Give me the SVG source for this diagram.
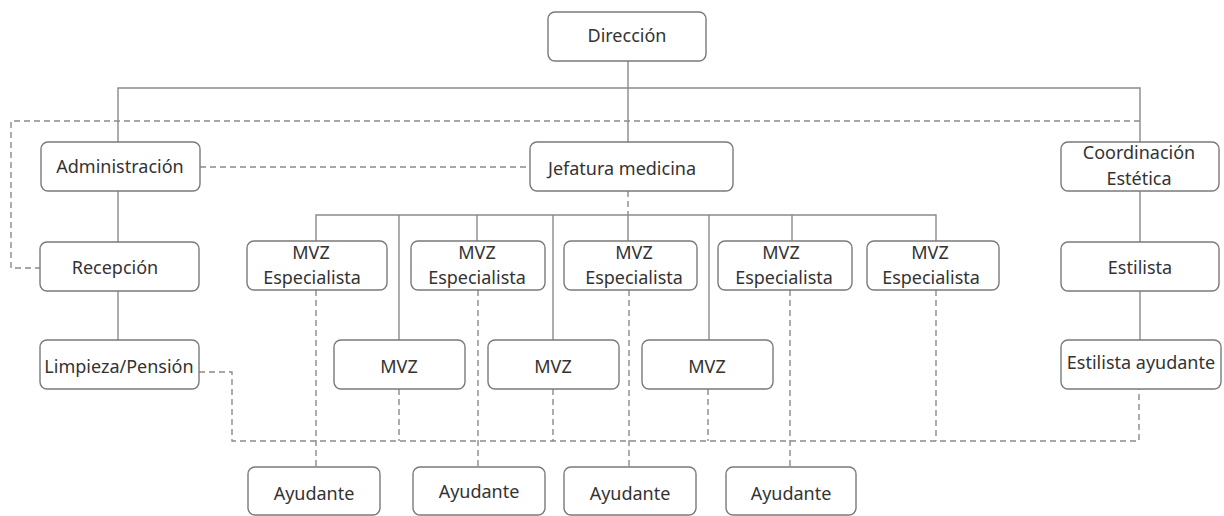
<svg xmlns="http://www.w3.org/2000/svg" width="1224" height="516" viewBox="0 0 1224 516">
<style>
.box{fill:#fff;stroke:#7a7a7a;stroke-width:1.4}
.t{font-family:"Noto Sans","Open Sans",sans-serif;font-size:18px;fill:#333;text-anchor:middle}
.s{fill:none;stroke:#8a8a8a;stroke-width:1.4}
.d{fill:none;stroke:#8a8a8a;stroke-width:1.4;stroke-dasharray:6 4}
</style>
<rect width="1224" height="516" fill="#fff"/>
<g id="connectors">
<path class="s" d="M628 61V142M118 142V88H1140V142"/>
<path class="d" d="M1140 121H11V268H40"/>
<path class="d" d="M200 167H530"/>
<path class="s" d="M118 191V242M118 291V340M1140 191V242M1140 291V340"/>
<path class="d" d="M628 191V215"/>
<path class="s" d="M316 241V215H936V241M399 215V340M477 215V241M553 215V340M628 215V241M709 215V340M792 215V241"/>
<path class="d" d="M199 372H232V441H1139V389M399 389V441M553 389V441M708 389V441M936 290V441"/>
<path class="d" d="M316 290V467M478 290V467M629 290V467M790 290V467"/>
</g>
<g id="direccion"><rect class="box" x="548" y="12" width="158" height="49" rx="7"/><text class="t" x="627" y="42">Dirección</text></g>
<g id="administracion"><rect class="box" x="41" y="142" width="159" height="49" rx="7"/><text class="t" x="120" y="173">Administración</text></g>
<g id="jefatura"><rect class="box" x="530" y="142" width="203" height="49" rx="7"/><text class="t" x="622" y="175">Jefatura medicina</text></g>
<g id="coordinacion"><rect class="box" x="1061" y="142" width="158" height="49" rx="7"/><text class="t" x="1139" y="159">Coordinación</text><text class="t" x="1139" y="185">Estética</text></g>
<g id="recepcion"><rect class="box" x="40" y="242" width="159" height="49" rx="7"/><text class="t" x="115" y="274">Recepción</text></g>
<g id="limpieza"><rect class="box" x="40" y="340" width="159" height="49" rx="7"/><text class="t" x="119" y="373">Limpieza/Pensión</text></g>
<g id="estilista"><rect class="box" x="1061" y="242" width="158" height="49" rx="7"/><text class="t" x="1140" y="274">Estilista</text></g>
<g id="estilista-ayudante"><rect class="box" x="1061" y="340" width="160" height="49" rx="7"/><text class="t" x="1141" y="369">Estilista ayudante</text></g>
<g id="esp1"><rect class="box" x="247" y="241" width="140" height="49" rx="7"/><text class="t" x="311" y="259">MVZ</text><text class="t" x="312" y="284">Especialista</text></g>
<g id="esp2"><rect class="box" x="411" y="241" width="134" height="49" rx="7"/><text class="t" x="477" y="259">MVZ</text><text class="t" x="477" y="284">Especialista</text></g>
<g id="esp3"><rect class="box" x="564" y="241" width="133" height="49" rx="7"/><text class="t" x="634" y="259">MVZ</text><text class="t" x="634" y="284">Especialista</text></g>
<g id="esp4"><rect class="box" x="718" y="241" width="134" height="49" rx="7"/><text class="t" x="781" y="259">MVZ</text><text class="t" x="784" y="284">Especialista</text></g>
<g id="esp5"><rect class="box" x="867" y="241" width="132" height="49" rx="7"/><text class="t" x="930" y="259">MVZ</text><text class="t" x="931" y="284">Especialista</text></g>
<g id="mvz1"><rect class="box" x="334" y="340" width="131" height="49" rx="7"/><text class="t" x="399" y="373">MVZ</text></g>
<g id="mvz2"><rect class="box" x="488" y="340" width="131" height="49" rx="7"/><text class="t" x="553" y="373">MVZ</text></g>
<g id="mvz3"><rect class="box" x="642" y="340" width="131" height="49" rx="7"/><text class="t" x="707" y="373">MVZ</text></g>
<g id="ayudante1"><rect class="box" x="248" y="467" width="132" height="48" rx="7"/><text class="t" x="314" y="500">Ayudante</text></g>
<g id="ayudante2"><rect class="box" x="413" y="467" width="132" height="48" rx="7"/><text class="t" x="479" y="498">Ayudante</text></g>
<g id="ayudante3"><rect class="box" x="564" y="467" width="132" height="48" rx="7"/><text class="t" x="630" y="500">Ayudante</text></g>
<g id="ayudante4"><rect class="box" x="726" y="467" width="130" height="48" rx="7"/><text class="t" x="791" y="500">Ayudante</text></g>
</svg>
